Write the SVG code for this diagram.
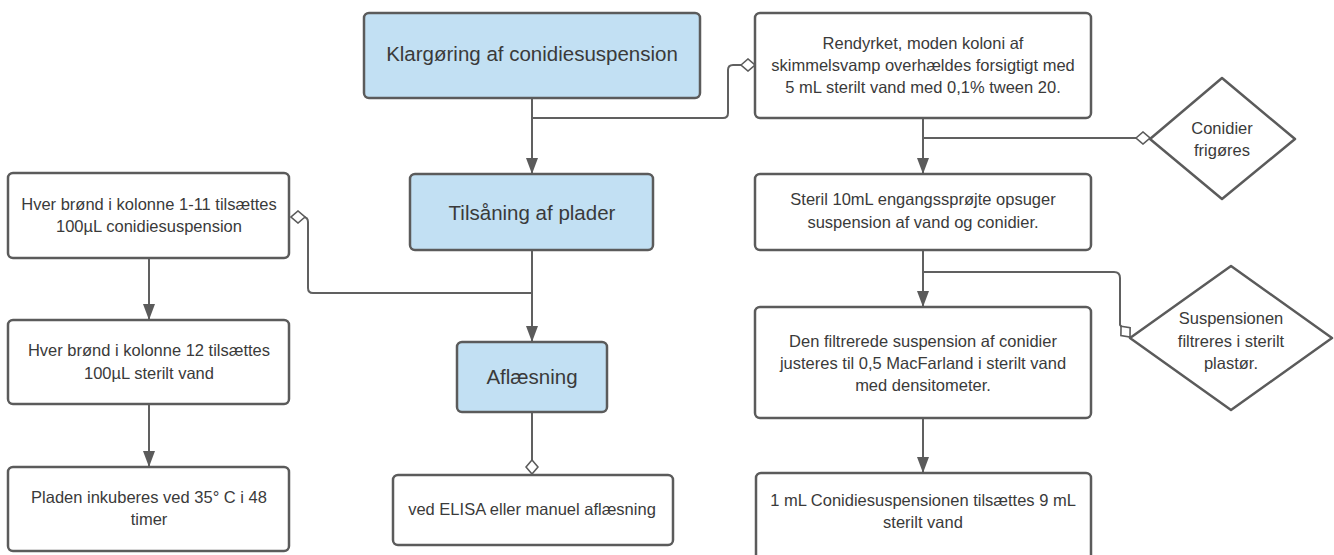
<svg xmlns="http://www.w3.org/2000/svg" width="1334" height="555" viewBox="0 0 1334 555">
<style>
.box{fill:#ffffff;stroke:#5b5b5b;stroke-width:2.5}
.hdr{fill:#c2e0f3;stroke:#5b5b5b;stroke-width:2.5}
.dia{fill:#ffffff;stroke:#5b5b5b;stroke-width:2.5;stroke-linejoin:round}
.t{font-family:"Liberation Sans",Arial,sans-serif;font-size:16.5px;fill:#3a3a3a;text-anchor:middle;dominant-baseline:central}
.th{font-family:"Liberation Sans",Arial,sans-serif;font-size:20.5px;fill:#3a3a3a;text-anchor:middle;dominant-baseline:central}
.c{fill:none;stroke:#606060;stroke-width:2}
</style>
<defs>
<marker id="arr" viewBox="0 0 16 12" refX="16" refY="6" markerWidth="16" markerHeight="12" markerUnits="userSpaceOnUse" orient="auto">
<path d="M0,0 L16,6 L0,12 Z" fill="#5b5b5b"/>
</marker>
<marker id="dmd" viewBox="0 0 16 14" refX="15" refY="7" markerWidth="16" markerHeight="14" markerUnits="userSpaceOnUse" orient="auto">
<path d="M1,7 L8,1 L15,7 L8,13 Z" fill="#ffffff" stroke="#5b5b5b" stroke-width="1.6"/>
</marker>
</defs>
<g id="connectors">
<path class="c" d="M532,98 V174" marker-end="url(#arr)"/>
<path class="c" d="M532,118 H723 Q728,118 728,113 V70 Q728,65 733,65 H755" marker-end="url(#dmd)"/>
<path class="c" d="M532,250 V342" marker-end="url(#arr)"/>
<path class="c" d="M532,293 H313 Q308,293 308,288 V222 Q308,217 303,217 H291" marker-end="url(#dmd)"/>
<path class="c" d="M532,412 V474" marker-end="url(#dmd)"/>
<path class="c" d="M149,258 V320" marker-end="url(#arr)"/>
<path class="c" d="M149,404 V467" marker-end="url(#arr)"/>
<path class="c" d="M923,118 V174" marker-end="url(#arr)"/>
<path class="c" d="M923,138 H1150" marker-end="url(#dmd)"/>
<path class="c" d="M923,250 V307" marker-end="url(#arr)"/>
<path class="c" d="M923,272 H1114 Q1120,272 1120,278 V325 L1130,337" marker-end="url(#dmd)"/>
<path class="c" d="M923,418 V473" marker-end="url(#arr)"/>
</g>
<g id="n-klargoring">
<rect class="hdr" x="364" y="13" width="336" height="85" rx="5"/>
<text class="th" x="532" y="53">Klargøring af conidiesuspension</text>
</g>
<g id="n-tilsaaning">
<rect class="hdr" x="410" y="174" width="243" height="76" rx="5"/>
<text class="th" x="532" y="212">Tilsåning af plader</text>
</g>
<g id="n-aflaesning">
<rect class="hdr" x="457" y="342" width="150" height="70" rx="5"/>
<text class="th" x="532" y="376">Aflæsning</text>
</g>
<g id="n-elisa">
<rect class="box" x="393" y="475" width="280" height="70" rx="5"/>
<text class="t" x="532" y="509">ved ELISA eller manuel aflæsning</text>
</g>
<g id="n-hver1">
<rect class="box" x="8" y="173" width="281" height="85" rx="5"/>
<text class="t" x="149" y="204">Hver brønd i kolonne 1-11 tilsættes</text>
<text class="t" x="149" y="226">100µL conidiesuspension</text>
</g>
<g id="n-hver12">
<rect class="box" x="8" y="320" width="281" height="84" rx="5"/>
<text class="t" x="149" y="350">Hver brønd i kolonne 12 tilsættes</text>
<text class="t" x="149" y="373">100µL sterilt vand</text>
</g>
<g id="n-pladen">
<rect class="box" x="8" y="467" width="281" height="84" rx="5"/>
<text class="t" x="149" y="497">Pladen inkuberes ved 35° C i 48</text>
<text class="t" x="149" y="519">timer</text>
</g>
<g id="n-rendyrket">
<rect class="box" x="755" y="13" width="336" height="105" rx="5"/>
<text class="t" x="923" y="43">Rendyrket, moden koloni af</text>
<text class="t" x="923" y="65">skimmelsvamp overhældes forsigtigt med</text>
<text class="t" x="923" y="87">5 mL sterilt vand med 0,1% tween 20.</text>
</g>
<g id="n-conidier">
<path class="dia" d="M1150,139 L1222,78 L1295,139 L1222,199 Z"/>
<text class="t" x="1222" y="128">Conidier</text>
<text class="t" x="1222" y="150">frigøres</text>
</g>
<g id="n-steril">
<rect class="box" x="755" y="174" width="336" height="76" rx="5"/>
<text class="t" x="923" y="199">Steril 10mL engangssprøjte opsuger</text>
<text class="t" x="923" y="222">suspension af vand og conidier.</text>
</g>
<g id="n-suspensionen">
<path class="dia" d="M1130,338 L1231,266 L1332,338 L1231,410 Z"/>
<text class="t" x="1231" y="318">Suspensionen</text>
<text class="t" x="1231" y="341">filtreres i sterilt</text>
<text class="t" x="1231" y="363">plastør.</text>
</g>
<g id="n-filtrerede">
<rect class="box" x="755" y="307" width="336" height="111" rx="5"/>
<text class="t" x="923" y="341">Den filtrerede suspension af conidier</text>
<text class="t" x="923" y="363">justeres til 0,5 MacFarland i sterilt vand</text>
<text class="t" x="923" y="385">med densitometer.</text>
</g>
<g id="n-1ml">
<rect class="box" x="756" y="473" width="335" height="100" rx="5"/>
<text class="t" x="923" y="500">1 mL Conidiesuspensionen tilsættes 9 mL</text>
<text class="t" x="923" y="522">sterilt vand</text>
</g>
</svg>
